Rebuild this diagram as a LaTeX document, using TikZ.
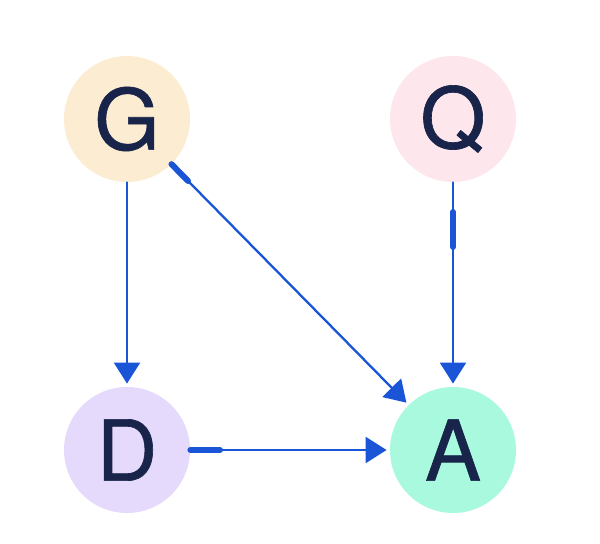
\documentclass[tikz,border=0pt]{standalone}
\usepackage{fontspec}
\newfontfamily\varfont[FakeBold=0.8]{TeX Gyre Heros}
\usetikzlibrary{arrows.meta,calc}
\definecolor{gfill}{HTML}{FCECD2}
\definecolor{qfill}{HTML}{FDE6EC}
\definecolor{dfill}{HTML}{E5D9FC}
\definecolor{afill}{HTML}{A9F9DF}
\definecolor{txt}{HTML}{18244A}
\definecolor{edgeblue}{HTML}{1A55D8}

\begin{document}
\begin{tikzpicture}[line cap=round,line join=round,x=0.5pt,y=-0.5pt,
  var/.style={circle,minimum size=63pt,inner sep=0pt,text=txt,font=\varfont\fontsize{42}{42}\selectfont},
  edge/.style={draw=edgeblue,line width=1.15pt,-{Triangle[length=10.5pt,width=13pt]},shorten >=1.5pt},
  thickseg/.style={draw=edgeblue,line width=3pt}]

\useasboundingbox (0,0) rectangle (600,544);

\node[var,fill=gfill] (G) at (127,119) {G};
\node[var,fill=qfill] (Q) at (453,119) {Q};
\node[var,fill=dfill] (D) at (127,450) {D};
\node[var,fill=afill] (A) at (453,450) {A};

\draw[edge] (G) -- (D);
\draw[edge] (G) -- (A);
\draw[edge] (Q) -- (A);
\draw[edge] (D) -- (A);

% thick stubs
\draw[thickseg] (G) -- ($(G)!43.5pt!(A)$);
\draw[thickseg] (D) -- ($(D)!46.5pt!(A)$);
\draw[thickseg] ($(Q)!46.5pt!(A)$) -- ($(Q)!64pt!(A)$);
\end{tikzpicture}
\end{document}
